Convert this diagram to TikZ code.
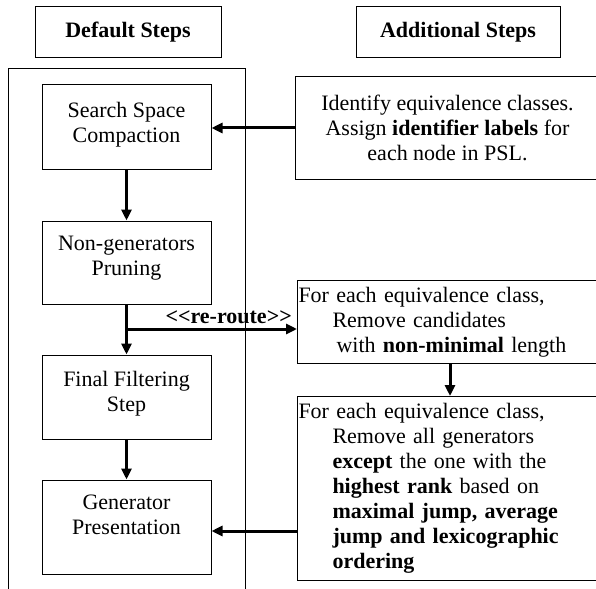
\documentclass[tikz,border=0pt]{standalone}
\usepackage{fontspec}
\setmainfont{Liberation Serif}
\usetikzlibrary{arrows.meta}

\begin{document}
\begin{tikzpicture}[x=1pt, y=-1pt,
	txt/.style={font=\fontsize{22}{25}\selectfont},
	box/.style={txt, draw, line width=1pt, rectangle, inner sep=1pt, align=center},
	stepbox/.style={box, minimum width=169pt},
	sidebox/.style={box, anchor=north west, text width=303pt, align=left},
	arr/.style={line width=3pt, -{Triangle[length=11pt, width=10pt]}}]
	\useasboundingbox (0,0) rectangle (596,588);
	\clip (0,0) rectangle (596,588);
	\node[box, font=\fontsize{22}{25}\selectfont\bfseries, minimum width=186pt, minimum height=51pt] (dft) at (128,32.5) {Default Steps};
	\node[box, font=\fontsize{22}{25}\selectfont\bfseries, minimum width=204pt, minimum height=51pt] (add) at (458,32.5) {Additional Steps};
	\draw[line width=1pt] (8,600)--(8,69)--(245,69)--(245,600);
	\node[stepbox, minimum height=84pt, text depth=10pt] (ssc) at (126.5,127) {Search Space\\Compaction};
	\node[stepbox, minimum height=83pt, text depth=14pt] (ngp) at (126.5,262.5) {Non-generators\\Pruning};
	\node[stepbox, minimum height=84pt, text depth=12pt] (fin) at (126.5,397) {Final Filtering\\Step};
	\node[stepbox, minimum height=94pt, text depth=24pt] (gen) at (126.5,527) {Generator\\Presentation};
	\node[box, minimum width=305pt, minimum height=102pt] (idn) at (447.5,128) {Identify equivalence classes.\\Assign \textbf{identifier labels} for\\each node in PSL.};
	\node[sidebox, minimum height=83pt] (rer) at (297,280) {For each equivalence class,\\\hspace*{34pt}Remove candidates\\\hspace*{38pt}with \textbf{non-minimal} length};
	\node[sidebox, minimum height=184pt] (rnk) at (297,396) {For each equivalence class,\\\hspace*{34pt}Remove all generators\\\hspace*{34pt}\textbf{except} the one with the\\\hspace*{34pt}\textbf{highest rank} based on\\\hspace*{34pt}\textbf{maximal jump, average}\\\hspace*{34pt}\textbf{jump and lexicographic}\\\hspace*{34pt}\textbf{ordering}};
	\coordinate (jn) at (126.5,329);
	\draw[arr] (idn.west) -- (ssc.east |- idn.west);
	\draw[arr] (ssc.south) -- (ngp.north);
	\draw[arr] (ngp.south) -- (fin.north);
	\draw[arr] (fin.south) -- (gen.north);
	\draw[arr] (jn) -- (jn -| rer.west);
	\draw[arr] (rer.south) -- (rnk.north);
	\draw[arr] (rnk.west |- 0,531) -- (gen.east |- 0,531);
	\node[txt, font=\fontsize{22}{25}\selectfont\bfseries, anchor=base east, inner sep=0pt] (rrl) at (292,323) {<{}<re-route>{}>};
\end{tikzpicture}
\end{document}
